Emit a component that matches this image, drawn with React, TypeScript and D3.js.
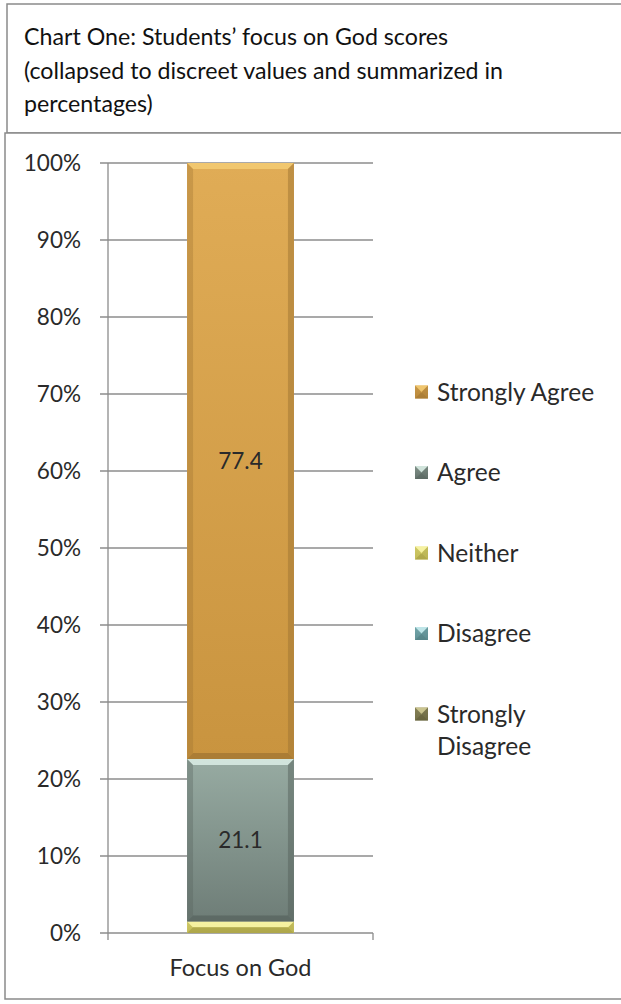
import React from "react";
import * as d3 from "d3";

const categories = ["Focus on God"];
const seriesKeys = ["Strongly Disagree", "Disagree", "Neither", "Agree", "Strongly Agree"];
const seriesValues = [0, 0, 1.5, 21.1, 77.4];
const legendOrder = ["Strongly Agree", "Agree", "Neither", "Disagree", "Strongly Disagree"];
const yTicks = [0, 10, 20, 30, 40, 50, 60, 70, 80, 90, 100];
const titleLines = [
  "Chart One: Students\u2019 focus on God scores",
  "(collapsed to discreet values and summarized in",
  "percentages)",
];

const palette: Record<string, { top: string; bot: string; hi: string; lo: string }> = {
  "Strongly Agree": { top: "#E0AC56", bot: "#C9943F", hi: "#F3CB73", lo: "#9E7332" },
  Agree: { top: "#97ABA2", bot: "#6E7D77", hi: "#DCEFE6", lo: "#55625C" },
  Neither: { top: "#EAE47A", bot: "#D9D166", hi: "#F8F4A8", lo: "#9C963F" },
  Disagree: { top: "#86BDC2", bot: "#6C9EA3", hi: "#C9ECEF", lo: "#4F7A7E" },
  "Strongly Disagree": { top: "#9A9566", bot: "#7F7B50", hi: "#D2CD97", lo: "#5E5B39" },
};

const FONT = "Lato, 'Open Sans', sans-serif";

function Bevel({ x, y, w, h, k, id }: { x: number; y: number; w: number; h: number; k: string; id: string }) {
  if (h <= 0) return null;
  const c = palette[k];
  const b = Math.min(6, h / 2, w / 2);
  return (
    <g>
      <rect x={x} y={y} width={w} height={h} fill={`url(#g-${id})`} />
      <polygon points={`${x},${y} ${x + w},${y} ${x + w - b},${y + b} ${x + b},${y + b}`} fill={c.hi} opacity={0.85} />
      <polygon points={`${x},${y + h} ${x + w},${y + h} ${x + w - b},${y + h - b} ${x + b},${y + h - b}`} fill={c.lo} opacity={0.7} />
      <polygon points={`${x},${y} ${x + b},${y + b} ${x + b},${y + h - b} ${x},${y + h}`} fill={c.lo} opacity={0.35} />
      <polygon points={`${x + w},${y} ${x + w - b},${y + b} ${x + w - b},${y + h - b} ${x + w},${y + h}`} fill={c.lo} opacity={0.5} />
    </g>
  );
}

export default function App() {
  const W = 621;
  const H = 1004;
  const y = d3.scaleLinear().domain([0, 100]).range([933, 163]);
  const x = d3.scaleBand().domain(categories).range([108, 373]).paddingInner(0.425).paddingOuter(0.425);
  const row: Record<string, any> = { cat: categories[0] };
  seriesKeys.forEach((k, i) => (row[k] = seriesValues[i]));
  const stacked = d3.stack<any>().keys(seriesKeys)([row]);
  const bw = x.bandwidth();
  const bx = x(categories[0]) as number;

  return (
    <svg width={W} height={H} style={{ position: "absolute", left: 0, top: 0 }} fontFamily={FONT}>
      <defs>
        {seriesKeys.map((k, i) => (
          <linearGradient key={k} id={`g-${i}`} x1="0" y1="0" x2="0" y2="1">
            <stop offset="0" stopColor={palette[k].top} />
            <stop offset="1" stopColor={palette[k].bot} />
          </linearGradient>
        ))}
      </defs>
      <rect x={0} y={0} width={W} height={H} fill="#fff" />
      {/* title box */}
      <rect x={7} y={4} width={W} height={129} fill="#fff" stroke="#8a8a8a" strokeWidth={1.5} />
      {titleLines.map((t, i) => (
        <text key={i} x={24} y={45 + i * 33.5} fontSize={23.2} fill="#111">
          {t}
        </text>
      ))}
      {/* chart box */}
      <rect x={5} y={133} width={W} height={866} fill="#fff" stroke="#8a8a8a" strokeWidth={1.5} />
      {/* gridlines & ticks */}
      {yTicks.map((t) => (
        <g key={t}>
          <line x1={100} x2={373} y1={y(t)} y2={y(t)} stroke="#8c8c8c" strokeWidth={1.3} />
          <text x={81} y={y(t)} dy="0.35em" textAnchor="end" fontSize={22.5} fill="#2a2a2a">
            {`${t}%`}
          </text>
        </g>
      ))}
      <line x1={108} x2={108} y1={y(100)} y2={940} stroke="#8c8c8c" strokeWidth={1.3} />
      <line x1={373} x2={373} y1={y(0)} y2={940} stroke="#8c8c8c" strokeWidth={1.3} />
      {/* bars */}
      {stacked.map((s, i) => {
        const d = s[0];
        const y0 = y(d[1]);
        const h = y(d[0]) - y(d[1]);
        return <Bevel key={s.key} id={String(i)} k={s.key} x={bx} y={y0} w={bw} h={h} />;
      })}
      {stacked.map((s) => {
        const d = s[0];
        const v = d[1] - d[0];
        if (v < 5) return null;
        return (
          <text key={s.key} x={bx + bw / 2} y={y((d[0] + d[1]) / 2)} dy="0.35em" textAnchor="middle" fontSize={22.5} fill="#2a2a2a">
            {v.toFixed(1)}
          </text>
        );
      })}
      <text x={bx + bw / 2} y={968} dy="0.35em" textAnchor="middle" fontSize={23.5} fill="#2a2a2a">
        {categories[0]}
      </text>
      {/* legend */}
      {legendOrder.map((k, i) => {
        const cy = 392 + i * 80.5;
        const idx = seriesKeys.indexOf(k);
        const words = k === "Strongly Disagree" ? ["Strongly", "Disagree"] : [k];
        return (
          <g key={k}>
            <Bevel id={String(idx)} k={k} x={415} y={cy - 6.5} w={13} h={13} />
            {words.map((w, j) => (
              <text key={j} x={437} y={cy + j * 32} dy="0.35em" fontSize={24.5} fill="#2a2a2a">
                {w}
              </text>
            ))}
          </g>
        );
      })}
    </svg>
  );
}
